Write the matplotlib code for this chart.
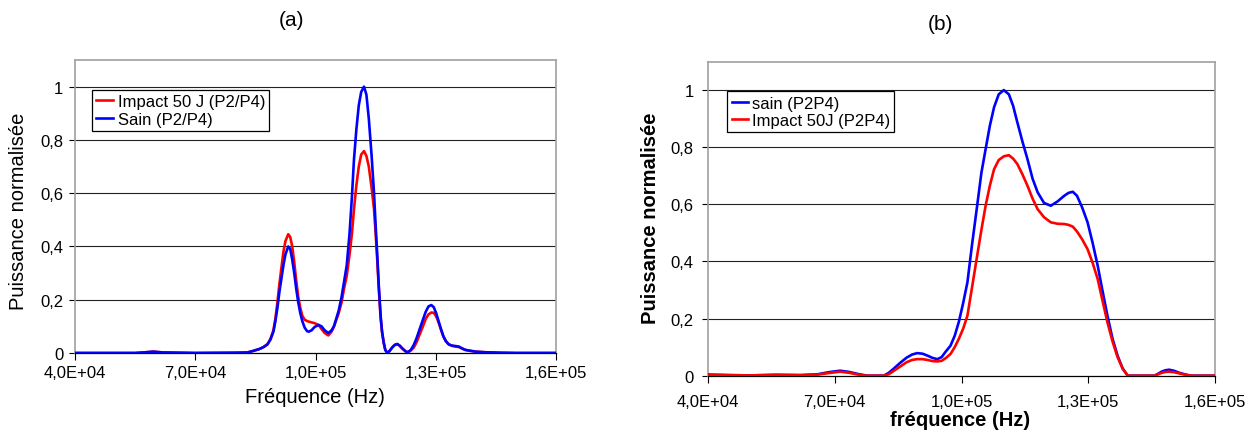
import numpy as np
import matplotlib
matplotlib.use("Agg")
import matplotlib.pyplot as plt

plt.rcParams['font.family'] = ['Liberation Sans', 'DejaVu Sans']

# Frequency (kHz) and normalised power, panel (a)
freq_a = np.array([40, 55, 57, 59.5, 62, 70, 80, 83, 84.5, 86, 87, 88, 88.75, 89.5, 90, 90.5,
                   91, 91.5, 92, 92.5, 93.2, 93.7, 94.2, 94.7, 95.2, 95.7, 96.2, 96.7, 97.3,
                   97.9, 98.3, 99, 99.8, 100.8, 101.5, 102.3, 103.2, 104, 104.6, 105.2, 105.8,
                   106.5, 107.1, 107.8, 108.5, 109.1, 109.6, 110.2, 110.8, 111.4, 112.1, 112.7,
                   113.3, 114.0, 114.6, 115.0, 115.4, 115.8, 116.25, 116.6, 117.0, 117.4, 117.9,
                   118.5, 119.2, 119.8, 120.4, 121, 121.8, 122.5, 123.1, 123.8, 124.5, 125.2,
                   126, 126.8, 127.5, 128.2, 128.9, 129.5, 130.1, 130.7, 131.3, 131.9, 132.5,
                   133.2, 134, 135, 135.8, 136.5, 137.3, 138.7, 140, 142, 146, 150, 160])
sain_a = np.array([0, 0, 0.002, 0.005, 0.002, 0, 0.001, 0.002, 0.008, 0.015, 0.022, 0.032, 0.05,
                   0.08, 0.12, 0.17, 0.23, 0.28, 0.33, 0.37, 0.40, 0.39, 0.35, 0.30, 0.24, 0.19,
                   0.15, 0.12, 0.095, 0.082, 0.08, 0.085, 0.098, 0.105, 0.1, 0.085, 0.075, 0.085,
                   0.1, 0.13, 0.16, 0.21, 0.265, 0.33, 0.45, 0.59, 0.727, 0.84, 0.93, 0.98, 1.0,
                   0.97, 0.88, 0.74, 0.60, 0.48, 0.37, 0.25, 0.14, 0.08, 0.04, 0.012, 0.0,
                   0.008, 0.022, 0.031, 0.034, 0.028, 0.015, 0.006, 0.003, 0.012, 0.03, 0.055,
                   0.09, 0.125, 0.155, 0.175, 0.18, 0.172, 0.15, 0.12, 0.09, 0.063, 0.045,
                   0.033, 0.028, 0.026, 0.024, 0.018, 0.012, 0.008, 0.005, 0.003, 0.001, 0, 0])
impact_a = np.array([0, 0, 0.002, 0.005, 0.002, 0, 0.001, 0.002, 0.008, 0.015, 0.022, 0.033, 0.052,
                     0.085, 0.13, 0.19, 0.26, 0.32, 0.38, 0.42, 0.446, 0.435, 0.40, 0.34, 0.27, 0.21,
                     0.17, 0.14, 0.125, 0.12, 0.118, 0.115, 0.112, 0.105, 0.09, 0.075, 0.066, 0.08,
                     0.1, 0.125, 0.15, 0.19, 0.24, 0.29, 0.37, 0.45, 0.54, 0.63, 0.70, 0.745, 0.758,
                     0.74, 0.70, 0.62, 0.54, 0.45, 0.35, 0.24, 0.13, 0.08, 0.04, 0.012, 0.0,
                     0.008, 0.022, 0.03, 0.033, 0.027, 0.015, 0.006, 0.003, 0.01, 0.02, 0.04,
                     0.07, 0.1, 0.128, 0.145, 0.152, 0.151, 0.138, 0.115, 0.088, 0.062, 0.045,
                     0.033, 0.027, 0.024, 0.022, 0.017, 0.012, 0.008, 0.005, 0.003, 0.001, 0, 0])

# panel (b)
freq_b = np.array([40, 45, 50, 56, 62, 66, 68.5, 71.3, 73.5, 75.5, 77.7, 81.6, 82.8, 84, 85.5,
                   87, 88.3, 89.5, 90.8, 92, 93.2, 94.3, 95.3, 96.3, 97.4, 98.4, 99.4, 100.4,
                   101.4, 102.5, 103.7, 104.7, 105.7, 106.7, 107.7, 108.8, 110, 111.2, 112.2,
                   113.2, 114.4, 115.6, 116.8, 118, 119.5, 121.1, 122.7, 124.3, 125.3, 126.3,
                   127.3, 128.5, 129.8, 131, 132.2, 133.3, 134.5, 135.7, 136.9, 138.1, 139.3,
                   145.6, 146.5, 147.3, 148.2, 149.1, 150.3, 151.5, 153, 154.3, 160])
sain_b = np.array([0.004, 0.002, 0.001, 0.003, 0.002, 0.005, 0.012, 0.0175, 0.013, 0.006, 0, 0,
                   0.01, 0.025, 0.045, 0.063, 0.074, 0.079, 0.077, 0.07, 0.062, 0.058, 0.065,
                   0.085, 0.105, 0.14, 0.19, 0.255, 0.327, 0.46, 0.595, 0.71, 0.793, 0.875, 0.94,
                   0.985, 1.0, 0.985, 0.945, 0.887, 0.82, 0.758, 0.69, 0.642, 0.605, 0.595, 0.61,
                   0.63, 0.64, 0.644, 0.63, 0.59, 0.537, 0.465, 0.385, 0.3, 0.21, 0.13, 0.07,
                   0.025, 0, 0, 0.007, 0.014, 0.019, 0.021, 0.017, 0.01, 0.004, 0, 0])
impact_b = np.array([0.003, 0.002, 0.001, 0.003, 0.002, 0.004, 0.009, 0.014, 0.01, 0.004, 0, 0,
                     0.005, 0.017, 0.032, 0.047, 0.055, 0.058, 0.058, 0.055, 0.051, 0.05, 0.052,
                     0.062, 0.076, 0.1, 0.13, 0.165, 0.21, 0.31, 0.42, 0.51, 0.595, 0.665, 0.723,
                     0.755, 0.768, 0.772, 0.76, 0.741, 0.705, 0.665, 0.62, 0.583, 0.555, 0.537,
                     0.532, 0.531, 0.528, 0.522, 0.505, 0.478, 0.443, 0.395, 0.338, 0.265, 0.187,
                     0.12, 0.065, 0.025, 0, 0, 0.005, 0.01, 0.013, 0.014, 0.012, 0.008, 0.003, 0, 0])

xticks = [4.0e4, 7.0e4, 1.0e5, 1.3e5, 1.6e5]
xtick_labels = ['4,0E+04', '7,0E+04', '1,0E+05', '1,3E+05', '1,6E+05']
yticks = [0, 0.2, 0.4, 0.6, 0.8, 1]
ytick_labels = ['0', '0,2', '0,4', '0,6', '0,8', '1']

fig = plt.figure(figsize=(12.57, 4.35), dpi=100)
W, H = 1257, 435


def make_axes(l, r, b, t, xpad, ypad):
    ax = fig.add_axes([l / W, 1 - b / H, (r - l) / W, (b - t) / H])
    ax.set_xlim(4.0e4, 1.6e5)
    ax.set_ylim(0, 1.1)
    ax.set_xticks(xticks)
    ax.set_xticklabels(xtick_labels)
    ax.set_yticks(yticks)
    ax.set_yticklabels(ytick_labels)
    ax.tick_params(axis='x', direction='out', length=5, width=0.8, labelsize=12, pad=xpad)
    ax.tick_params(axis='y', direction='out', length=4, width=0.8, labelsize=12, pad=ypad)
    for y in yticks[1:]:
        ax.axhline(y, color='#222222', lw=0.8, zorder=1)
    for s in ['top', 'right', 'left']:
        ax.spines[s].set_color('#a0a0a0')
        ax.spines[s].set_linewidth(1.2)
    ax.spines['bottom'].set_color('black')
    ax.spines['bottom'].set_linewidth(0.9)
    return ax


# (a)
ax1 = make_axes(75, 556, 354, 61, 3.5, 4.5)
ax1.plot(freq_a * 1000, impact_a, color='#ff0000', lw=1.9, label='Impact 50 J (P2/P4)', zorder=3)
ax1.plot(freq_a * 1000, sain_a, color='#0000ff', lw=1.9, label='Sain (P2/P4)', zorder=4)
leg1 = ax1.legend(loc='upper left', bbox_to_anchor=(0.035, 0.898), borderaxespad=0,
                  fontsize=12, handlelength=1.0, handletextpad=0.3, borderpad=0.25,
                  labelspacing=0.15, fancybox=False, framealpha=1, edgecolor='black')
leg1.get_frame().set_linewidth(0.9)

# (b)
ax2 = make_axes(707.7, 1215.3, 376.7, 62.5, 8, 6)
ax2.plot(freq_b * 1000, sain_b, color='#0000ff', lw=1.9, label='sain (P2P4)', zorder=3)
ax2.plot(freq_b * 1000, impact_b, color='#ff0000', lw=1.9, label='Impact 50J (P2P4)', zorder=4)
leg2 = ax2.legend(loc='upper left', bbox_to_anchor=(0.039, 0.905), borderaxespad=0,
                  fontsize=12, handlelength=1.0, handletextpad=0.2, borderpad=0.25,
                  labelspacing=0.15, fancybox=False, framealpha=1, edgecolor='black')
leg2.get_frame().set_linewidth(0.9)

# titles and axis labels
fig.text(291 / W, 1 - 21 / H, '(a)', ha='center', va='center', fontsize=15)
fig.text(940 / W, 1 - 25 / H, '(b)', ha='center', va='center', fontsize=15)
fig.text(19 / W, 1 - 211 / H, 'Puissance normalisée', rotation=90, ha='center', va='center', fontsize=14.5)
fig.text(651 / W, 1 - 218 / H, 'Puissance normalisée', rotation=90, ha='center', va='center',
         fontsize=14.5, fontweight='bold')
fig.text(315 / W, 1 - 398 / H, 'Fréquence (Hz)', ha='center', va='center', fontsize=14.5)
fig.text(960 / W, 1 - 421 / H, 'fréquence (Hz)', ha='center', va='center', fontsize=14.5,
         fontweight='bold')

fig.savefig('out.png', dpi=100)
